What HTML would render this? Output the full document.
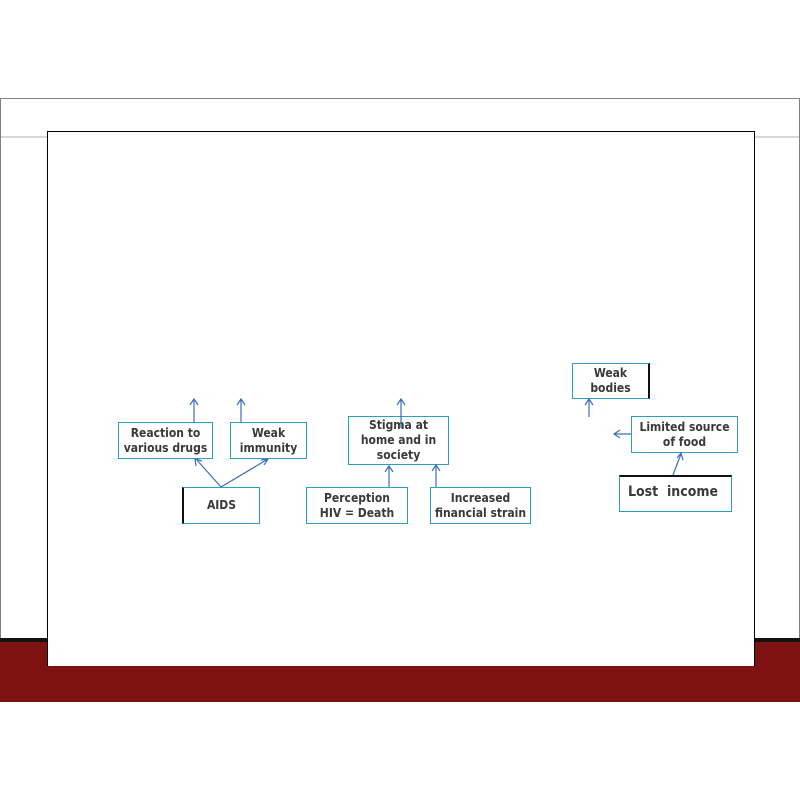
<!DOCTYPE html>
<html><head><style>
body{margin:0;width:800px;height:800px;background:#fff;position:relative;overflow:hidden;font-family:"DejaVu Sans Condensed","DejaVu Sans","Liberation Sans",sans-serif;}
.a{position:absolute;box-sizing:border-box}
.b{position:absolute;box-sizing:border-box;border:1px solid #2aa0c0;background:#fff;color:#3a3a3a;font-weight:bold;font-size:12px;line-height:15px;text-align:center;display:flex;align-items:center;justify-content:center}
</style></head><body>
<div class="a" style="left:0;top:98px;width:800px;height:545px;border:1px solid #808080;border-bottom:none"></div>
<div class="a" style="left:1px;top:136px;width:798px;height:2px;background:#d8d8d8"></div>
<div class="a" style="left:0;top:638px;width:800px;height:4px;background:#111"></div>
<div class="a" style="left:0;top:642px;width:800px;height:60px;background:#7d1210"></div>
<div class="a" style="left:47px;top:131px;width:708px;height:535px;background:#fff;border:1px solid #000;border-bottom:none"></div>

<div class="b" style="left:118px;top:422px;width:95px;height:37px">Reaction to<br>various drugs</div>
<div class="b" style="left:230px;top:422px;width:77px;height:37px">Weak<br>immunity</div>
<div class="b" style="left:182px;top:487px;width:78px;height:37px;border-left:2px solid #111">AIDS</div>
<div class="b" style="left:348px;top:416px;width:101px;height:49px">Stigma at<br>home and in<br>society</div>
<div class="b" style="left:306px;top:487px;width:102px;height:37px">Perception<br>HIV = Death</div>
<div class="b" style="left:430px;top:487px;width:101px;height:37px">Increased<br>financial strain</div>
<div class="b" style="left:572px;top:363px;width:78px;height:36px;border-right:2px solid #111">Weak<br>bodies</div>
<div class="b" style="left:631px;top:416px;width:107px;height:37px">Limited source<br>of food</div>
<div class="b" style="left:619px;top:475px;width:113px;height:37px;border-top:2px solid #111;font-size:14px;justify-content:flex-start;padding-left:8px;padding-bottom:4px">Lost&nbsp; income</div>

<svg class="a" style="left:0;top:0" width="800" height="800">
<g stroke="#3a70b8" stroke-width="1.2" fill="none">
<path d="M194 422V400M190 405L194 399L198 405"/>
<path d="M241 422V400M237 405L241 399L245 405"/>
<path d="M221 487L196 459M196 466L195 459L202 461"/>
<path d="M221 487L268 459M261 460L268 459L264 465"/>
<path d="M401 428V400M397 405L401 399L405 405"/>
<path d="M389 487V467M385 472L389 466L393 472"/>
<path d="M436 487V466M432 471L436 465L440 471"/>
<path d="M589 417V400M585 405L589 399L593 405"/>
<path d="M631 434H615M620 430L614 434L620 438"/>
<path d="M673 475L681 454M677 458L681 453L683 460"/>
</g></svg>
</body></html>
